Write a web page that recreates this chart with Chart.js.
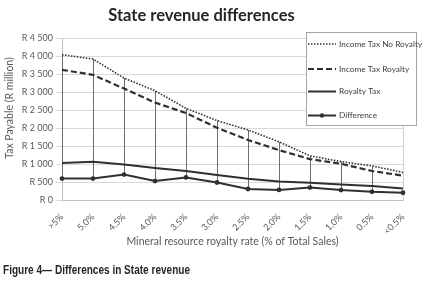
<!DOCTYPE html>
<html><head><meta charset="utf-8">
<script src="https://cdn.jsdelivr.net/npm/chart.js@4/dist/chart.umd.min.js"></script>
<style>html,body{margin:0;padding:0;background:#fff;}#wrap{position:relative;width:424px;height:282px;}</style>
</head><body><div id="wrap"><canvas id="c" width="424" height="282"></canvas></div>
<script>
const categories = ['>5%','5.0%','4.5%','4.0%','3.5%','3.0%','2.5%','2.0%','1.5%','1.0%','0.5%','<0.5%'];
const incomeTaxNoRoyalty = [4050, 3930, 3400, 3050, 2560, 2220, 1960, 1630, 1240, 1080, 960, 780];
const incomeTaxRoyalty   = [3630, 3490, 3110, 2720, 2430, 2020, 1680, 1400, 1150, 1020, 820, 690];
const royaltyTax         = [1040, 1075, 1000, 900, 820, 710, 605, 530, 490, 445, 400, 335];
const difference         = [610, 610, 720, 540, 640, 500, 320, 295, 360, 290, 240, 215];
const seriesNames = ['Income Tax No Royalty', 'Income Tax Royalty', 'Royalty Tax', 'Difference'];
const yMin = 0, yMax = 4500, yStep = 500;
const chartTitle = 'State revenue differences';
const xTitle = 'Mineral resource royalty rate (% of Total Sales)';
const yTitle = 'Tax Payable (R million)';
const caption = 'Figure 4\u2014 Differences in State revenue';

const FONT = 'Lato, "Open Sans", sans-serif';
const LINE = '#303030';
const fmtR = v => 'R ' + String(v).replace(/\B(?=(\d{3})+(?!\d))/g, ' ');

const hiLow = {
  id: 'hiLow',
  beforeDatasetsDraw(chart) {
    const ctx = chart.ctx;
    const metas = chart.data.datasets.map((d, i) => chart.getDatasetMeta(i));
    ctx.save();
    ctx.strokeStyle = '#6e6e6e';
    ctx.lineWidth = 1;
    for (let i = 0; i < categories.length; i++) {
      const ys = metas.map(m => m.data[i].y);
      const x = Math.round(metas[0].data[i].x) + 0.5;
      ctx.beginPath();
      ctx.moveTo(x, Math.min(...ys));
      ctx.lineTo(x, Math.max(...ys));
      ctx.stroke();
    }
    const a = chart.chartArea;
    ctx.strokeStyle = '#cfcfcf';
    ctx.beginPath();
    ctx.moveTo(Math.round(a.right) + 0.5, a.top);
    ctx.lineTo(Math.round(a.right) + 0.5, a.bottom);
    ctx.stroke();
    ctx.restore();
  }
};

const extras = {
  id: 'extras',
  afterDraw(chart) {
    const ctx = chart.ctx;
    ctx.save();
    // legend box
    ctx.fillStyle = '#fff';
    ctx.strokeStyle = '#a6a6a6';
    ctx.lineWidth = 1;
    ctx.fillRect(306.5, 32.5, 110, 93);
    ctx.strokeRect(306.5, 32.5, 110, 93);
    const items = [
      {y: 44, dash: [1.5, 1.5], w: 1.5},
      {y: 69, dash: [6, 3], w: 2.2},
      {y: 91.5, dash: [], w: 2},
      {y: 115.5, dash: [], w: 2, pt: true}
    ];
    items.forEach((it, i) => {
      ctx.strokeStyle = LINE;
      ctx.lineWidth = it.w;
      ctx.setLineDash(it.dash);
      ctx.beginPath();
      ctx.moveTo(308, it.y);
      ctx.lineTo(336, it.y);
      ctx.stroke();
      ctx.setLineDash([]);
      if (it.pt) {
        ctx.fillStyle = LINE;
        ctx.beginPath();
        ctx.arc(322, it.y, 2.2, 0, Math.PI * 2);
        ctx.fill();
      }
      ctx.fillStyle = '#404040';
      ctx.font = '8.3px ' + FONT;
      ctx.textBaseline = 'middle';
      ctx.textAlign = 'left';
      ctx.fillText(seriesNames[i], 339, it.y);
    });
    // y title
    ctx.save();
    ctx.translate(9.5, 108);
    ctx.rotate(-Math.PI / 2);
    ctx.fillStyle = '#595959';
    ctx.font = '10.5px ' + FONT;
    ctx.textAlign = 'center';
    ctx.textBaseline = 'middle';
    ctx.fillText(yTitle, 0, 0);
    ctx.restore();
    // caption (condensed bold)
    ctx.save();
    ctx.fillStyle = '#262626';
    ctx.font = 'bold 12px "Liberation Sans", Arial, sans-serif';
    ctx.textAlign = 'left';
    ctx.textBaseline = 'middle';
    const w = ctx.measureText(caption).width;
    ctx.translate(3, 271);
    ctx.scale(187 / w, 1);
    ctx.fillText(caption, 0, 0);
    ctx.restore();
    ctx.restore();
  }
};

new Chart(document.getElementById('c'), {
  type: 'line',
  data: {
    labels: categories,
    datasets: [
      {label: seriesNames[0], data: incomeTaxNoRoyalty, borderColor: LINE, borderWidth: 1.6, borderDash: [1.5, 1.5], pointRadius: 0, tension: 0},
      {label: seriesNames[1], data: incomeTaxRoyalty, borderColor: LINE, borderWidth: 2.2, borderDash: [6, 3], pointRadius: 0, tension: 0},
      {label: seriesNames[2], data: royaltyTax, borderColor: LINE, borderWidth: 2, pointRadius: 0, tension: 0},
      {label: seriesNames[3], data: difference, borderColor: LINE, backgroundColor: LINE, borderWidth: 2, pointRadius: 2.4, pointBorderWidth: 0, pointBackgroundColor: LINE, tension: 0}
    ]
  },
  options: {
    responsive: false,
    animation: false,
    devicePixelRatio: 1,
    layout: {padding: {left: 0, right: 21, top: 0, bottom: 0}},
    plugins: {
      legend: {display: false},
      tooltip: {enabled: false},
      title: {display: true, text: chartTitle, color: '#262626', font: {family: FONT, size: 16.5, weight: 'bold'}, padding: {top: 6, bottom: 12.7}}
    },
    scales: {
      x: {
        grid: {display: false},
        border: {display: true, color: '#bfbfbf'},
        ticks: {maxRotation: 45, minRotation: 45, autoSkip: false, color: '#595959', font: {family: FONT, size: 9}, padding: 3},
        title: {display: true, text: xTitle, color: '#595959', font: {family: FONT, size: 10.5}, padding: {top: 0, bottom: 33.7}},
        afterFit: s => { s.height = 81.5; }
      },
      y: {
        min: yMin, max: yMax,
        ticks: {stepSize: yStep, color: '#595959', font: {family: FONT, size: 9}, padding: 3, callback: v => fmtR(v)},
        grid: {color: '#d9d9d9', lineWidth: 1, tickLength: 6},
        border: {display: true, color: '#bfbfbf'},
        afterFit: s => { s.width = 62; }
      }
    }
  },
  plugins: [hiLow, extras]
});
</script></body></html>
